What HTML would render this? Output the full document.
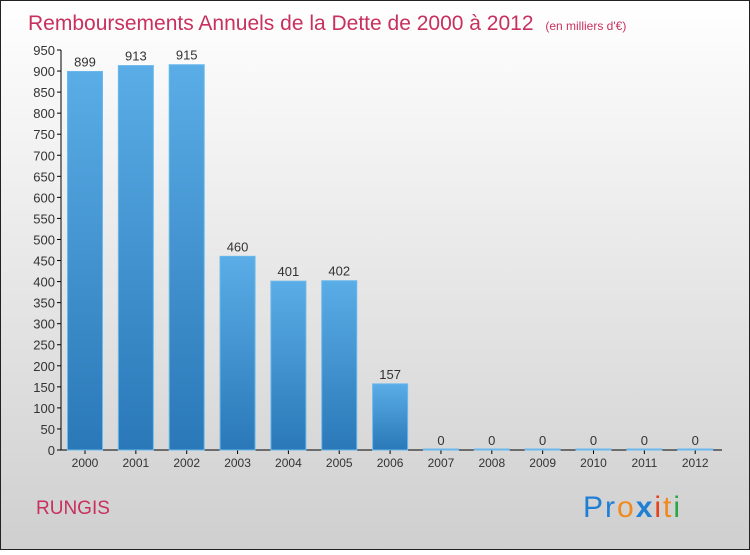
<!DOCTYPE html>
<html><head><meta charset="utf-8"><style>
body{margin:0;}
#c{width:750px;height:550px;position:relative;font-family:"Liberation Sans",sans-serif;}
</style></head><body>
<div id="c">
<svg id="s" width="750" height="550" xmlns="http://www.w3.org/2000/svg">
<defs>
<linearGradient id="bg" x1="0" y1="0" x2="0" y2="1"><stop offset="0" stop-color="#ffffff"/><stop offset="1" stop-color="#cfcfcf"/></linearGradient>
<linearGradient id="bar" x1="0" y1="0" x2="0" y2="1"><stop offset="0" stop-color="#5aade6"/><stop offset="1" stop-color="#2a78b8"/></linearGradient>
</defs>
<rect x="0.5" y="0.5" width="749" height="549" fill="url(#bg)" stroke="#222"/>
<text x="28" y="30" font-size="21" fill="#c8305f">Remboursements Annuels de la Dette de 2000 à 2012 <tspan font-size="12" dx="6">(en milliers d'€)</tspan></text>
<g id="ax"></g><g id="bars"></g>
<text x="36" y="514" font-size="19" fill="#c8305f">RUNGIS</text>
<g font-size="30" letter-spacing="2">
<text x="583" y="517"><tspan fill="#1f7fd4">Pr</tspan><tspan fill="#f08a1c">o</tspan><tspan fill="#1f7fd4" font-weight="bold">x</tspan><tspan fill="#e8411a">i</tspan><tspan fill="#f08a1c">t</tspan><tspan fill="#2aa845">i</tspan></text>
</g>
</svg>
</div>
<script>
const categories=["2000","2001","2002","2003","2004","2005","2006","2007","2008","2009","2010","2011","2012"];
const values=[899,913,915,460,401,402,157,0,0,0,0,0,0];
const ticks=[0,50,100,150,200,250,300,350,400,450,500,550,600,650,700,750,800,850,900,950];
const NS="http://www.w3.org/2000/svg";
const y=v=>450-v*400/950, x=i=>85+50.85*i;
function mk(t,a,p,txt){const e=document.createElementNS(NS,t);for(const k in a)e.setAttribute(k,a[k]);if(txt!==undefined)e.textContent=txt;p.appendChild(e);return e;}
const ax=document.getElementById('ax'),bs=document.getElementById('bars');
const yl=mk('line',{x1:61,y1:50,x2:61,y2:450,stroke:'#000'},ax);


const xl=mk('line',{x1:61,y1:450,x2:722,y2:450,stroke:'#000'},ax);


ticks.forEach(t=>{
 mk('line',{x1:57,x2:61,y1:y(t),y2:y(t),stroke:'#000'},ax);
 const l=mk('text',{x:55,y:y(t)+5,'text-anchor':'end','font-size':13,fill:'#333'},ax,t);
 
 
});
categories.forEach((c,i)=>{
 mk('line',{x1:x(i),x2:x(i),y1:450,y2:454,stroke:'#000'},ax);
 const l=mk('text',{x:x(i),y:467,'text-anchor':'middle','font-size':12,fill:'#333'},ax,c);
 
 
 const v=values[i],h=Math.max(450-y(v),1);
 const r=mk('rect',{x:x(i)-17.5,y:450-h,width:35,height:h,fill:'url(#bar)',stroke:'#6ab8ec','stroke-width':1},bs);
 
 
 const t=mk('text',{x:x(i),y:y(v)-5,'text-anchor':'middle','font-size':13,fill:'#333'},bs,v);
 
 
});
</script>
</body></html>
